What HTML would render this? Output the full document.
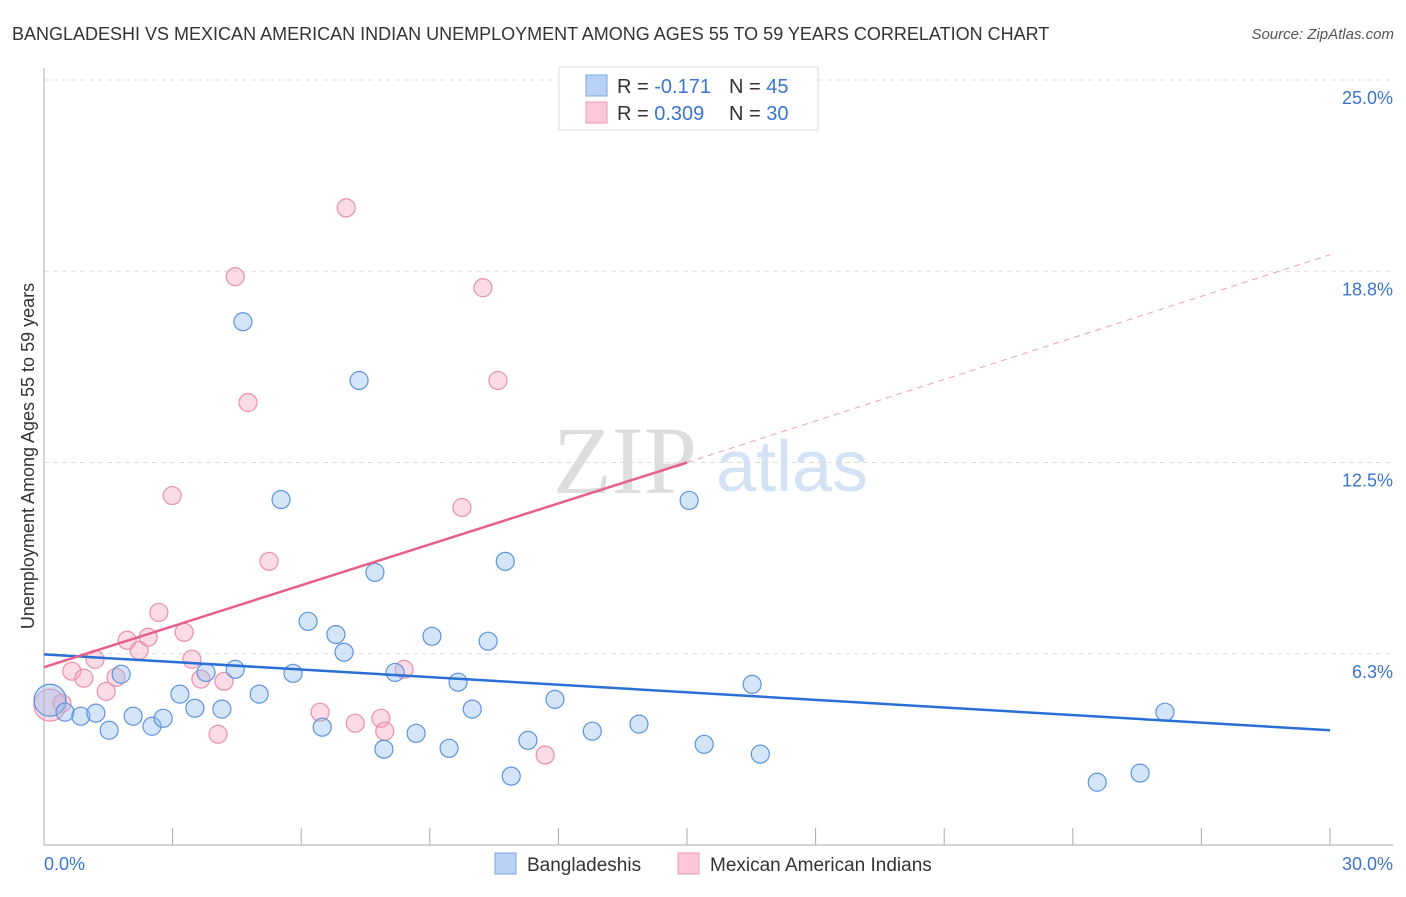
<!DOCTYPE html>
<html><head><meta charset="utf-8"><style>
body{margin:0;background:#fff;font-family:"Liberation Sans",sans-serif}
svg text{font-family:"Liberation Sans",sans-serif}
</style></head><body>
<svg id="chart" width="1406" height="892" xmlns="http://www.w3.org/2000/svg">
<text x="12" y="40" font-size="18" fill="#333">BANGLADESHI VS MEXICAN AMERICAN INDIAN UNEMPLOYMENT AMONG AGES 55 TO 59 YEARS CORRELATION CHART</text>
<text x="1394" y="39" font-size="15" font-style="italic" fill="#555" text-anchor="end">Source: ZipAtlas.com</text>
<text x="553" y="493" font-size="96" font-family="Liberation Serif" fill="#ddd" style="font-family:'Liberation Serif',serif">ZIP</text>
<text x="716" y="491" font-size="72" fill="#d3e2f5">atlas</text>
<g id="grid"></g>
<g id="axes"></g>
<g id="marks"></g>
<text transform="translate(34,456) rotate(-90)" font-size="18" fill="#333" text-anchor="middle">Unemployment Among Ages 55 to 59 years</text>
<g>
<rect x="559" y="67" width="259" height="63" fill="#fff" stroke="#ddd"/>
<rect x="586" y="75" width="21" height="21" fill="#b8d1f5" stroke="#7aa6e6"/>
<rect x="586" y="102" width="21" height="21" fill="#fbc8d8" stroke="#ee9ab5"/>
<text x="617" y="93" font-size="20" fill="#333">R = <tspan fill="#3a74d0">-0.171</tspan><tspan x="729">N = </tspan><tspan fill="#3a74d0">45</tspan></text>
<text x="617" y="120" font-size="20" fill="#333">R = <tspan fill="#3a74d0">0.309</tspan><tspan x="729">N = </tspan><tspan fill="#3a74d0">30</tspan></text>
</g>
<g>
<rect x="495" y="853" width="21" height="21" fill="#b8d1f5" stroke="#7aa6e6"/>
<text x="527" y="871" font-size="19" fill="#333">Bangladeshis</text>
<rect x="678" y="853" width="21" height="21" fill="#fbc8d8" stroke="#ee9ab5"/>
<text x="710" y="871" font-size="19" fill="#333">Mexican American Indians</text>
</g>
</svg>
<script>
const blueX=[0.14,0.49,0.86,1.21,1.52,1.80,2.08,2.52,2.78,3.17,3.52,3.78,4.15,4.46,4.64,5.02,5.53,5.81,6.16,6.49,6.81,7.00,7.35,7.72,7.93,8.19,8.68,9.05,9.45,9.66,9.99,10.36,10.76,10.90,11.29,11.92,12.79,13.88,15.05,15.40,16.52,16.71,24.57,25.57,26.15];
const blueY=[4.73,4.34,4.21,4.31,3.75,5.58,4.21,3.88,4.14,4.93,4.47,5.64,4.44,5.74,17.10,4.93,11.29,5.61,7.31,3.85,6.88,6.30,15.18,8.91,3.13,5.64,3.65,6.82,3.16,5.32,4.44,6.66,9.27,2.25,3.42,4.76,3.72,3.95,11.26,3.29,5.25,2.97,2.05,2.35,4.34];
const pinkX=[0.14,0.42,0.65,0.93,1.19,1.45,1.68,1.94,2.22,2.43,2.68,2.99,3.27,3.45,3.66,4.06,4.20,4.46,4.76,5.25,6.44,7.05,7.26,7.86,7.95,8.40,9.75,10.24,10.59,11.69];
const pinkY=[4.57,4.63,5.68,5.45,6.07,5.02,5.48,6.69,6.36,6.79,7.60,11.42,6.95,6.07,5.42,3.62,5.35,18.57,14.46,9.27,4.34,20.82,3.98,4.14,3.72,5.74,11.03,18.21,15.18,2.94];
const blueTrend=[[0,6.23],[30,3.75]];
const pinkTrend=[[0,5.81],[15,12.50],[30,19.29]];
const yTicks=[6.25,12.5,18.75,25];
const yTickLabels=["6.3%","12.5%","18.8%","25.0%"];
const xTicks=[0,3,6,9,12,15,18,21,24,27,30];
const NS="http://www.w3.org/2000/svg";
const X=v=>44+v/30*1286, Y=v=>845-v/25*765;
function mk(tag,attrs,parent){const e=document.createElementNS(NS,tag);for(const k in attrs)e.setAttribute(k,attrs[k]);document.getElementById(parent).appendChild(e);return e;}
yTicks.forEach((t,i)=>{
 const l=mk('line',{x1:44,x2:1393,y1:Y(t),y2:Y(t),stroke:'#ddd','stroke-dasharray':'5,4'},'grid');
 
 
 const tx=mk('text',{x:1393,y:Y(t)+24,'font-size':18,fill:'#3a74d0','text-anchor':'end'},'grid');
 tx.textContent=yTickLabels[i];
 
 
});
mk('line',{x1:44,x2:44,y1:68,y2:845,stroke:'#aaa'},'axes');
mk('line',{x1:44,x2:1393,y1:845,y2:845,stroke:'#aaa'},'axes');
xTicks.forEach(t=>{const l=mk('line',{x1:X(t),x2:X(t),y1:828,y2:845,stroke:'#aaa'},'axes');
 
 });
let a=mk('text',{x:44,y:870,'font-size':18,fill:'#3a74d0'},'axes');a.textContent='0.0%';


a=mk('text',{x:1393,y:870,'font-size':18,fill:'#3a74d0','text-anchor':'end'},'axes');a.textContent='30.0%';


function dots(xs,ys,fill,stroke,name){xs.forEach((x,i)=>{const c=mk('circle',{cx:X(x),cy:Y(ys[i]),r:i===0?16:9,fill:fill,stroke:stroke,'stroke-width':1.2},'marks');
 
 });}
dots(pinkX,pinkY,'rgba(245,165,190,0.4)','#ea8fae','mexican-point');
dots(blueX,blueY,'rgba(150,190,240,0.4)','#5d93dc','bangladeshi-point');
let t=mk('line',{x1:X(blueTrend[0][0]),y1:Y(blueTrend[0][1]),x2:X(blueTrend[1][0]),y2:Y(blueTrend[1][1]),stroke:'#2a6fd6','stroke-width':2.5},'marks');


t=mk('line',{x1:X(pinkTrend[0][0]),y1:Y(pinkTrend[0][1]),x2:X(pinkTrend[1][0]),y2:Y(pinkTrend[1][1]),stroke:'#e8608a','stroke-width':2.5},'marks');


t=mk('line',{x1:X(pinkTrend[1][0]),y1:Y(pinkTrend[1][1]),x2:X(pinkTrend[2][0]),y2:Y(pinkTrend[2][1]),stroke:'#e8a0b8','stroke-width':1,'stroke-dasharray':'6,5'},'marks');


</script>
</body></html>
